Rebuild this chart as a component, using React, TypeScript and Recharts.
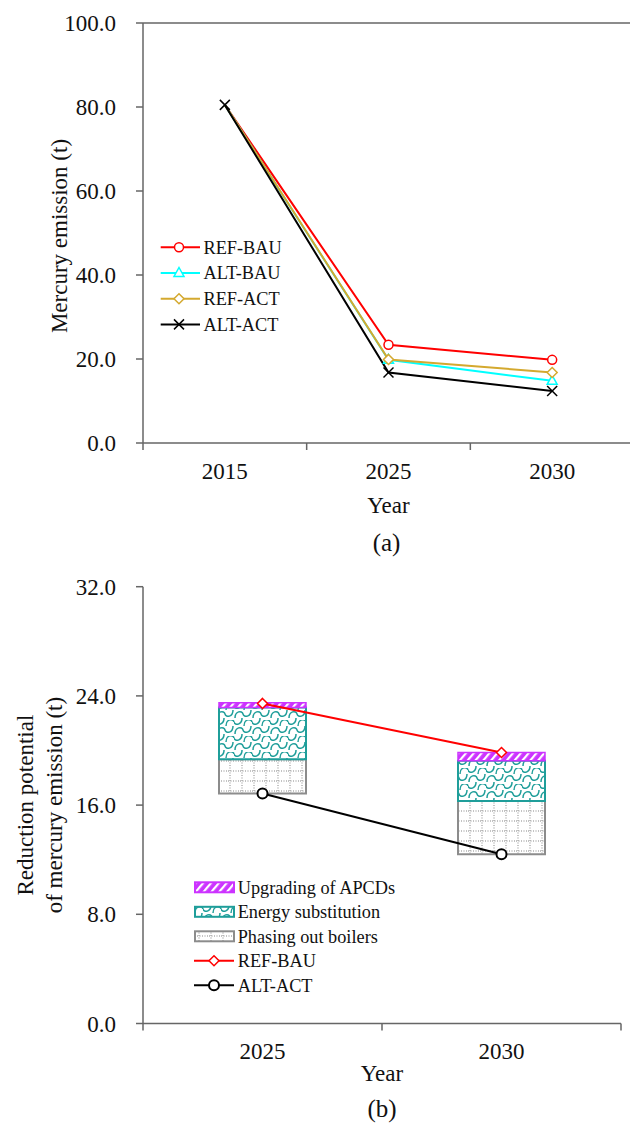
import React from 'react';
import { LineChart, ComposedChart, Line, Bar, XAxis, YAxis, ReferenceLine, Legend } from 'recharts';

const FONT = '"Liberation Serif", "Times New Roman", serif';
const AXIS = '#666666';
const TXT = '#111111';

// ---------- Chart (a) ----------
const yearsA = ['2015', '2025', '2030'];
const refBauA = [80.5, 23.4, 19.8];
const altBauA = [80.5, 19.8, 14.8];
const refActA = [80.5, 19.9, 16.8];
const altActA = [80.5, 16.8, 12.4];
const yTicksA = [0, 20, 40, 60, 80, 100];

// ---------- Chart (b) ----------
const yearsB = ['2025', '2030'];
const phasingB = [2.5, 3.9];
const energyB = [3.8, 2.95];
const apcdB = [0.35, 0.6];
const refBauB = [23.45, 19.85];
const altActB = [16.85, 12.4];
const yTicksB = [0, 8, 16, 24, 32];

const RED = '#FF0000';
const CYAN = '#00FFFF';
const GOLD = '#D4A92F';
const BLACK = '#000000';
const MAGENTA = '#CC33FF';
const TEAL = '#1F9E9A';
const GRAY = '#8C8C8C';

const TICK_FS = 23;
const TITLE_FS = 23;
const LEG_FS = 18.3;

const dataA = yearsA.map((y, i) => ({
  x: i + 0.5,
  year: y,
  refBau: refBauA[i],
  altBau: altBauA[i],
  refAct: refActA[i],
  altAct: altActA[i],
}));

const dataB = yearsB.map((y, i) => ({
  x: i + 0.5,
  year: y,
  base: altActB[i],
  phasing: phasingB[i],
  energy: energyB[i],
  apcd: apcdB[i],
  refBau: refBauB[i],
  altAct: altActB[i],
}));

const xTicksA = [0, 0.5, 1, 1.5, 2, 2.5, 3];
const xTicksB = [0, 0.5, 1, 1.5, 2];

function makeXTick(labels: string[], labelDy: number) {
  return (props: any) => {
    const { x, y, payload } = props;
    const v = Number(payload.value);
    if (Math.abs(v - Math.round(v)) < 1e-6) {
      return <line x1={x} x2={x} y1={y} y2={y + 7} stroke={AXIS} strokeWidth={1.5} />;
    }
    return (
      <text x={x} y={y + labelDy} textAnchor="middle" fontFamily={FONT} fontSize={TICK_FS} fill={TXT}>
        {labels[Math.floor(v)]}
      </text>
    );
  };
}

// marker shapes
const circleMarker = (cx: number, cy: number, color: string, r: number, sw: number, key?: string) => (
  <circle key={key} cx={cx} cy={cy} r={r} fill="#fff" stroke={color} strokeWidth={sw} />
);
const triMarker = (cx: number, cy: number, color: string, key?: string) => (
  <path key={key} d={`M${cx},${cy - 5.5} L${cx + 5},${cy + 3.5} L${cx - 5},${cy + 3.5} Z`} fill="#fff" stroke={color} strokeWidth={1.5} />
);
const diaMarker = (cx: number, cy: number, color: string, s: number, key?: string) => (
  <path key={key} d={`M${cx},${cy - s} L${cx + s},${cy} L${cx},${cy + s} L${cx - s},${cy} Z`} fill="#fff" stroke={color} strokeWidth={1.5} />
);
const xMarker = (cx: number, cy: number, color: string, key?: string) => (
  <g key={key}>
    <line x1={cx - 5} y1={cy - 5} x2={cx + 5} y2={cy + 5} stroke={color} strokeWidth={1.5} />
    <line x1={cx - 5} y1={cy + 5} x2={cx + 5} y2={cy - 5} stroke={color} strokeWidth={1.5} />
  </g>
);
const noDot = (key: string) => <g key={key} />;

const legendA = [
  { name: 'REF-BAU', color: RED, m: 'circle' },
  { name: 'ALT-BAU', color: CYAN, m: 'tri' },
  { name: 'REF-ACT', color: GOLD, m: 'dia' },
  { name: 'ALT-ACT', color: BLACK, m: 'x' },
];

const renderLegendA = () => (
  <svg width={260} height={110}>
    {legendA.map((it, i) => {
      const y = 17.3 + i * 25.7;
      let mk;
      if (it.m === 'circle') mk = circleMarker(29, y, it.color, 4.5, 1.5);
      else if (it.m === 'tri') mk = triMarker(29, y, it.color);
      else if (it.m === 'dia') mk = diaMarker(29, y, it.color, 5);
      else mk = xMarker(29, y, it.color);
      return (
        <g key={it.name}>
          <line x1={10.7} x2={50} y1={y} y2={y} stroke={it.color} strokeWidth={2} />
          {mk}
          <text x={53.5} y={y} dy="0.35em" fontFamily={FONT} fontSize={LEG_FS} fill={TXT}>{it.name}</text>
        </g>
      );
    })}
  </svg>
);

const legendB = [
  { name: 'Upgrading of APCDs', kind: 'bar', fill: 'url(#patApcd)', stroke: MAGENTA },
  { name: 'Energy substitution', kind: 'bar', fill: 'url(#patEnergy)', stroke: TEAL },
  { name: 'Phasing out boilers', kind: 'bar', fill: 'url(#patPhase)', stroke: GRAY },
  { name: 'REF-BAU', kind: 'dia', stroke: RED },
  { name: 'ALT-ACT', kind: 'circle', stroke: BLACK },
];

const renderLegendB = () => (
  <svg width={260} height={125}>
    {legendB.map((it, i) => {
      const y = 12.3 + i * 24.5;
      return (
        <g key={it.name}>
          {it.kind === 'bar' ? (
            <rect x={10} y={y - 5} width={39} height={10} fill={it.fill} stroke={it.stroke} strokeWidth={2} />
          ) : (
            <g>
              <line x1={9} x2={49} y1={y} y2={y} stroke={it.stroke} strokeWidth={2} />
              {it.kind === 'dia' ? diaMarker(29, y, it.stroke, 5) : circleMarker(29, y, it.stroke, 5, 2)}
            </g>
          )}
          <text x={52.7} y={y} dy="0.35em" fontFamily={FONT} fontSize={LEG_FS} fill={TXT}>{it.name}</text>
        </g>
      );
    })}
  </svg>
);

const fmt1 = (v: number) => Number(v).toFixed(1);
const tickStyle = { fontFamily: FONT, fontSize: TICK_FS, fill: TXT };

export default function App() {
  return (
    <div style={{ position: 'absolute', left: 0, top: 0, width: 630, height: 1124, overflow: 'hidden', background: '#fff' }}>
      <svg width={0} height={0} style={{ position: 'absolute' }}>
        <defs>
          <pattern id="patApcd" patternUnits="userSpaceOnUse" width={6} height={6} patternTransform="rotate(40)">
            <rect width={6} height={6} fill={MAGENTA} />
            <rect x={0} y={0} width={2.2} height={6} fill="#ffffff" />
          </pattern>
          <pattern id="patEnergy" patternUnits="userSpaceOnUse" width={18} height={16}>
            <rect width={18} height={16} fill="#ffffff" />
            <path d="M1,14 C1,7 8,6 9,10 C10,14 17,13 17,6" fill="none" stroke={TEAL} strokeWidth={1.5} />
            <path d="M-8,6 C-8,-1 -1,-2 0,2 M10,6 C10,-1 17,-2 18,2" fill="none" stroke={TEAL} strokeWidth={1.5} />
            <path d="M0,2 C1,6 8,5 8,-2" fill="none" stroke={TEAL} strokeWidth={1.5} />
            <path d="M0,18 C1,22 8,21 8,14" fill="none" stroke={TEAL} strokeWidth={1.5} />
          </pattern>
          <pattern id="patPhase" patternUnits="userSpaceOnUse" width={12} height={10}>
            <rect width={12} height={10} fill="#ffffff" />
            <line x1={0} y1={1} x2={12} y2={1} stroke="#888" strokeWidth={1} strokeDasharray="1 1.5" />
            <line x1={2} y1={0} x2={2} y2={10} stroke="#888" strokeWidth={1} strokeDasharray="1 1.5" />
          </pattern>
        </defs>
      </svg>

      {/* Chart (a) */}
      <div style={{ position: 'absolute', left: 0, top: 0 }}>
        <LineChart width={640} height={560} data={dataA} margin={{ top: 23, right: 6, bottom: 0, left: 0 }}>
          <XAxis
            type="number"
            dataKey="x"
            domain={[0, 3]}
            ticks={xTicksA}
            interval={0}
            height={117}
            tickSize={0}
            tickMargin={0}
            tickLine={false}
            axisLine={{ stroke: AXIS, strokeWidth: 1.5 }}
            tick={makeXTick(yearsA, 36)}
            label={(p: any) => {
              const vb = p.viewBox || { x: 143, y: 443, width: 491 };
              const cx = vb.x + vb.width / 2;
              return (
                <g>
                  <text x={cx} y={vb.y + 70} textAnchor="middle" fontFamily={FONT} fontSize={TITLE_FS} fill={TXT}>Year</text>
                  <text x={cx - 2} y={vb.y + 108} textAnchor="middle" fontFamily={FONT} fontSize={25} fill={TXT}>(a)</text>
                </g>
              );
            }}
          />
          <YAxis
            type="number"
            domain={[0, 100]}
            ticks={yTicksA}
            interval={0}
            width={143}
            tickSize={7}
            tickMargin={20}
            tickFormatter={fmt1}
            tick={tickStyle}
            tickLine={{ stroke: AXIS, strokeWidth: 1.5 }}
            axisLine={{ stroke: AXIS, strokeWidth: 1.5 }}
            label={(p: any) => {
              const vb = p.viewBox || { y: 23, height: 420 };
              const cy = vb.y + vb.height / 2 + 3;
              return (
                <text x={67} y={cy} transform={`rotate(-90 67 ${cy})`} textAnchor="middle" fontFamily={FONT} fontSize={TITLE_FS} fill={TXT}>
                  Mercury emission (t)
                </text>
              );
            }}
          />
          <ReferenceLine y={100} stroke={AXIS} strokeWidth={1.5} />
          <Line dataKey="refBau" stroke={RED} strokeWidth={2} isAnimationActive={false}
            dot={(p: any) => (p.index === 0 ? noDot(`a1-${p.index}`) : circleMarker(p.cx, p.cy, RED, 4.5, 1.5, `a1-${p.index}`))} />
          <Line dataKey="altBau" stroke={CYAN} strokeWidth={2} isAnimationActive={false}
            dot={(p: any) => (p.index === 0 ? noDot(`a2-${p.index}`) : triMarker(p.cx, p.cy, CYAN, `a2-${p.index}`))} />
          <Line dataKey="refAct" stroke={GOLD} strokeWidth={2} isAnimationActive={false}
            dot={(p: any) => (p.index === 0 ? noDot(`a3-${p.index}`) : diaMarker(p.cx, p.cy, GOLD, 5, `a3-${p.index}`))} />
          <Line dataKey="altAct" stroke={BLACK} strokeWidth={2} isAnimationActive={false}
            dot={(p: any) => xMarker(p.cx, p.cy, BLACK, `a4-${p.index}`)} />
          <Legend
            layout="vertical"
            align="center"
            verticalAlign="middle"
            content={renderLegendA}
            wrapperStyle={{ left: 150, top: 230, width: 260, height: 110 }}
          />
        </LineChart>
      </div>

      {/* Chart (b) */}
      <div style={{ position: 'absolute', left: 0, top: 560 }}>
        <ComposedChart width={630} height={564} data={dataB} margin={{ top: 26.7, right: 9, bottom: 0, left: 0 }}>
          <XAxis
            type="number"
            dataKey="x"
            domain={[0, 2]}
            ticks={xTicksB}
            interval={0}
            height={100.5}
            tickSize={0}
            tickMargin={0}
            tickLine={false}
            axisLine={{ stroke: AXIS, strokeWidth: 1.5 }}
            tick={makeXTick(yearsB, 35)}
            label={(p: any) => {
              const vb = p.viewBox || { x: 143, y: 463.5, width: 478 };
              const cx = vb.x + vb.width / 2;
              return (
                <g>
                  <text x={cx} y={vb.y + 57} textAnchor="middle" fontFamily={FONT} fontSize={TITLE_FS} fill={TXT}>Year</text>
                  <text x={cx} y={vb.y + 93} textAnchor="middle" fontFamily={FONT} fontSize={25} fill={TXT}>(b)</text>
                </g>
              );
            }}
          />
          <YAxis
            type="number"
            domain={[0, 32]}
            ticks={yTicksB}
            interval={0}
            width={143}
            tickSize={7}
            tickMargin={20}
            tickFormatter={fmt1}
            tick={tickStyle}
            tickLine={{ stroke: AXIS, strokeWidth: 1.5 }}
            axisLine={{ stroke: AXIS, strokeWidth: 1.5 }}
            label={(p: any) => {
              const vb = p.viewBox || { y: 26.7, height: 436.8 };
              const cy = vb.y + vb.height / 2;
              return (
                <g>
                  <text x={33.5} y={cy} transform={`rotate(-90 33.5 ${cy})`} textAnchor="middle" fontFamily={FONT} fontSize={TITLE_FS} fill={TXT}>
                    Reduction potential
                  </text>
                  <text x={62} y={cy} transform={`rotate(-90 62 ${cy})`} textAnchor="middle" fontFamily={FONT} fontSize={TITLE_FS} fill={TXT}>
                    of mercury emission (t)
                  </text>
                </g>
              );
            }}
          />
          <Bar dataKey="base" stackId="s" barSize={87} fill="transparent" stroke="none" isAnimationActive={false} legendType="none" />
          <Bar dataKey="phasing" stackId="s" barSize={87} fill="url(#patPhase)" stroke={GRAY} strokeWidth={2} isAnimationActive={false} />
          <Bar dataKey="energy" stackId="s" barSize={87} fill="url(#patEnergy)" stroke={TEAL} strokeWidth={2} isAnimationActive={false} />
          <Bar dataKey="apcd" stackId="s" barSize={87} fill="url(#patApcd)" stroke={MAGENTA} strokeWidth={1.5} isAnimationActive={false} />
          <Line dataKey="refBau" stroke={RED} strokeWidth={2} isAnimationActive={false}
            dot={(p: any) => diaMarker(p.cx, p.cy, RED, 5, `b1-${p.index}`)} />
          <Line dataKey="altAct" stroke={BLACK} strokeWidth={2} isAnimationActive={false}
            dot={(p: any) => circleMarker(p.cx, p.cy, BLACK, 5, 2, `b2-${p.index}`)} />
          <Legend
            layout="vertical"
            align="center"
            verticalAlign="middle"
            content={renderLegendB}
            wrapperStyle={{ left: 185, top: 315, width: 260, height: 125 }}
          />
        </ComposedChart>
      </div>
    </div>
  );
}
